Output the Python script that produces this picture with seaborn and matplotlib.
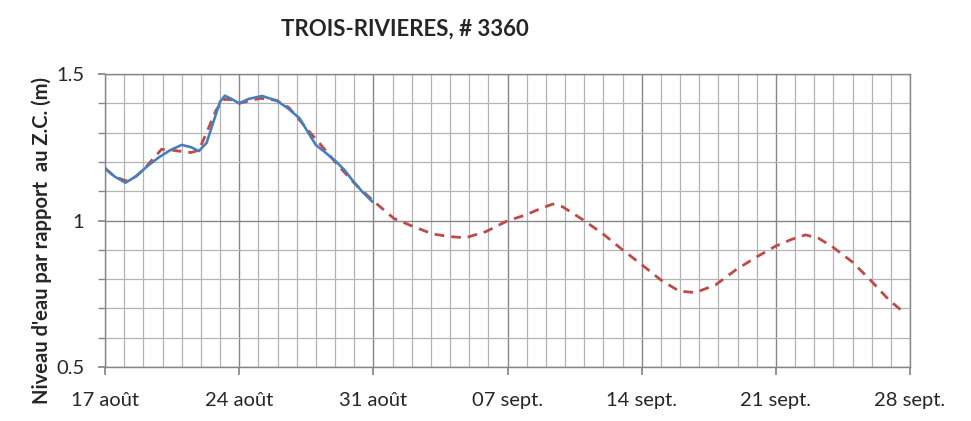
import pandas as pd
import numpy as np
import matplotlib.pyplot as plt
import matplotlib.dates as mdates
import seaborn as sns

# --- data (days after 17 Aug, water level in m) ---
start = pd.Timestamp('2013-08-17')

obs_days = [0.0, 0.5, 1.07, 1.6, 2.2, 2.8, 3.4, 4.0, 4.5, 4.9, 5.3, 5.7, 6.0, 6.25,
            6.6, 7.0, 7.5, 8.2, 8.95, 9.5, 10.15, 10.6, 11.0, 11.5, 12.07, 12.5,
            12.9, 13.4, 13.95]
obs_vals = [1.178, 1.150, 1.129, 1.150, 1.185, 1.215, 1.240, 1.258, 1.250, 1.237,
            1.265, 1.345, 1.405, 1.426, 1.415, 1.400, 1.415, 1.425, 1.409, 1.385,
            1.349, 1.300, 1.258, 1.232, 1.200, 1.172, 1.138, 1.100, 1.064]

pred_days = [0.0, 0.5, 1.1, 1.6, 2.0, 2.5, 2.95, 3.5, 4.08, 4.5, 4.9, 5.3, 5.8,
             6.2, 6.6, 7.0, 7.5, 8.1, 8.95, 9.6, 10.15, 10.7, 11.2, 12.15, 13.1,
             14.05, 15.07, 16.1, 17.1, 18.0, 18.8, 19.87, 21.0, 21.95, 22.7, 23.35,
             23.87, 24.9, 25.95, 27.0, 28.03, 29.0, 29.95, 30.8, 31.85, 32.9, 33.95,
             35.0, 35.8, 36.55, 37.24, 37.94, 38.98, 39.93, 40.9, 41.7]
pred_vals = [1.178, 1.150, 1.135, 1.150, 1.172, 1.210, 1.243, 1.240, 1.235, 1.232,
             1.240, 1.300, 1.377, 1.414, 1.412, 1.400, 1.408, 1.417, 1.410, 1.385,
             1.343, 1.300, 1.263, 1.189, 1.121, 1.064, 1.007, 0.979, 0.954, 0.945,
             0.941, 0.962, 0.999, 1.019, 1.040, 1.056, 1.047, 1.004, 0.956, 0.900,
             0.848, 0.797, 0.759, 0.754, 0.780, 0.831, 0.874, 0.913, 0.935, 0.951,
             0.939, 0.911, 0.859, 0.797, 0.729, 0.685]

tick_labels = ['17 août', '24 août', '31 août', '07 sept.', '14 sept.', '21 sept.', '28 sept.']
tick_days = [0, 7, 14, 21, 28, 35, 42]

df_obs = pd.DataFrame({'date': start + pd.to_timedelta(obs_days, unit='D'), 'niveau': obs_vals})
df_pred = pd.DataFrame({'date': start + pd.to_timedelta(pred_days, unit='D'), 'niveau': pred_vals})

sns.set_theme(style='white')
plt.rcParams['font.family'] = ['Lato', 'DejaVu Sans']

fig = plt.figure(figsize=(9.71, 4.21), dpi=100)
ax = fig.add_axes([105 / 971, 1 - 367 / 421, 805 / 971, 293 / 421])

sns.lineplot(data=df_pred, x='date', y='niveau', ax=ax, color='#BE4B48',
             linestyle=(0, (3.5, 2.5)), linewidth=2.0, zorder=3)
sns.lineplot(data=df_obs, x='date', y='niveau', ax=ax, color='#4A7EBB',
             linewidth=1.9, zorder=4)

ax.set_xlim(start, start + pd.Timedelta(days=42))
ax.set_ylim(0.5, 1.5)

ax.set_xticks([start + pd.Timedelta(days=d) for d in tick_days])
ax.set_xticklabels(tick_labels)
ax.xaxis.set_minor_locator(mdates.DayLocator())
ax.set_yticks([0.5, 1.0, 1.5])
ax.set_yticklabels(['0.5', '1', '1.5'])
ax.set_yticks(np.arange(0.5, 1.5, 0.1), minor=True)

ax.grid(which='major', color='#868686', linewidth=1.0)
ax.grid(which='minor', color='#b4b4b4', linewidth=0.9)
ax.set_axisbelow(True)

for side in ['top', 'right', 'bottom', 'left']:
    ax.spines[side].set_color('#868686')
    ax.spines[side].set_linewidth(1.0)

ax.tick_params(axis='x', which='major', direction='out', length=6, color='#868686',
               labelsize=14.5, pad=12, bottom=True)
ax.tick_params(axis='x', which='minor', length=0)
ax.tick_params(axis='y', which='both', direction='out', length=5, color='#868686',
               labelsize=14.5, left=True, pad=10)

ax.set_xlabel('')
ax.set_ylabel("Niveau d'eau par rapport  au Z.C. (m)", fontsize=14.5, weight='bold')
ax.yaxis.set_label_coords(-0.066, 0.433)
fig.text(0.417, 0.93, 'TROIS-RIVIERES, # 3360', fontsize=16, weight='bold', ha='center', va='center')

fig.savefig('out.png', dpi=100)
